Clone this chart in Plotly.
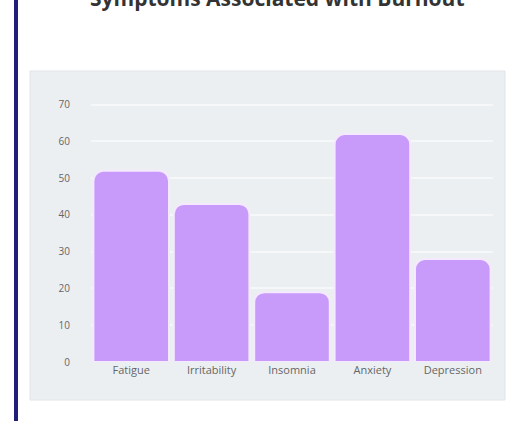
import plotly.graph_objects as go

categories = ["Fatigue", "Irritability", "Insomnia", "Anxiety", "Depression"]
values = [52, 43, 19, 62, 28]
y_ticks = [0, 10, 20, 30, 40, 50, 60, 70]
title_text = "Symptoms Associated with Burnout"

L, R, T, B = 91, 25, 101, 59
W, H = 518, 421
pw, ph = W - L - R, H - T - B

def px_x(x):
    return (x - L) / pw

def px_y(y):
    return (H - B - y) / ph

fig = go.Figure()
fig.add_trace(go.Bar(
    x=categories, y=values,
    marker=dict(color="#c89afa", line=dict(color="#f4e9ff", width=2), cornerradius=10),
    width=0.94,
))

fig.update_layout(
    width=W, height=H,
    margin=dict(l=L, r=R, t=T, b=B),
    paper_bgcolor="white",
    plot_bgcolor="rgba(0,0,0,0)",
    showlegend=False,
    font=dict(family="Open Sans", size=10, color="#666"),
    xaxis=dict(showgrid=False, zeroline=False, showline=False, ticks="",
               tickfont=dict(size=11, color="#666")),
    yaxis=dict(range=[0, 71], tickvals=y_ticks, showgrid=True, gridcolor="#f6f7f9", gridwidth=1.5,
               zeroline=False, showline=False, ticks="", ticklabelstandoff=20,
               tickfont=dict(size=10, color="#666")),
    shapes=[
        dict(type="rect", xref="paper", yref="paper", layer="below",
             x0=px_x(30), x1=px_x(505), y0=px_y(400), y1=px_y(71),
             fillcolor="#eceff2", line=dict(color="#e1e4e8", width=1)),
        dict(type="line", xref="paper", yref="paper",
             x0=px_x(16), x1=px_x(16), y0=px_y(421), y1=px_y(0),
             line=dict(color="#1f1f7a", width=4)),
    ],
    annotations=[
        dict(text="<b>" + title_text + "</b>", xref="paper", yref="paper", x=px_x(277), y=px_y(14),
             xanchor="center", yanchor="bottom", showarrow=False,
             font=dict(family="Open Sans", size=21, color="#333")),
    ],
)

fig.write_html("out.html")
